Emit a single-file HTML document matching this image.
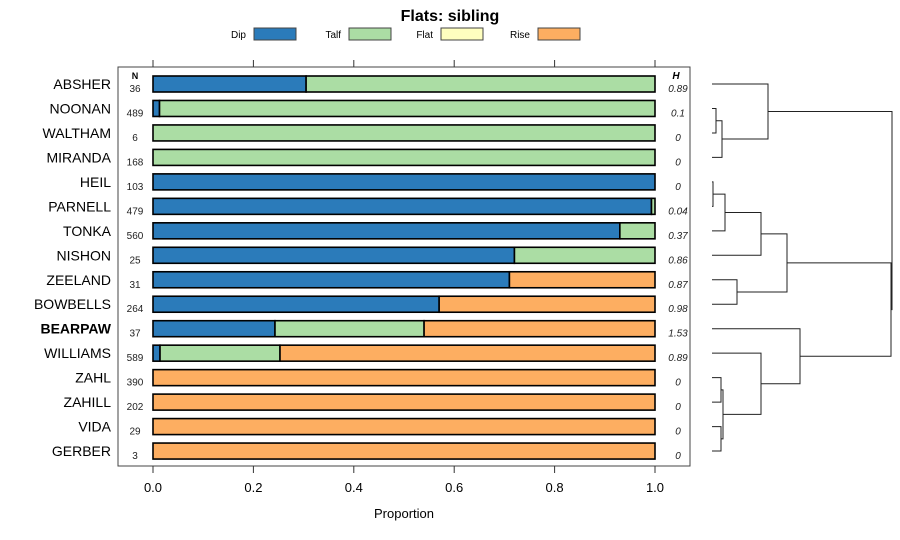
<!DOCTYPE html>
<html><head><meta charset="utf-8"><style>
body{margin:0;background:#fff;}
svg{display:block;font-family:"Liberation Sans",sans-serif;}
</style></head><body>
<svg id="c" width="900" height="540"></svg>
<script>
const rows=["ABSHER","NOONAN","WALTHAM","MIRANDA","HEIL","PARNELL","TONKA","NISHON","ZEELAND","BOWBELLS","BEARPAW","WILLIAMS","ZAHL","ZAHILL","VIDA","GERBER"];
const nVals=[36,489,6,168,103,479,560,25,31,264,37,589,390,202,29,3];
const hVals=["0.89","0.1","0","0","0","0.04","0.37","0.86","0.87","0.98","1.53","0.89","0","0","0","0"];
const dip=[0.305,0.013,0,0,1,0.993,0.93,0.72,0.71,0.57,0.243,0.014,0,0,0,0];
const talf=[0.695,0.987,1,1,0,0.007,0.07,0.28,0,0,0.297,0.239,0,0,0,0];
const flat=[0,0,0,0,0,0,0,0,0,0,0,0,0,0,0,0];
const rise=[0,0,0,0,0,0,0,0,0.29,0.43,0.46,0.747,1,1,1,1];
const ticks=[0,0.2,0.4,0.6,0.8,1.0];
const cats=["Dip","Talf","Flat","Rise"];
const colors=["#2b7bba","#abdda4","#ffffbf","#fdae61"];
const NS="http://www.w3.org/2000/svg";
const svg=document.getElementById('c');
function mk(t,a,txt){const e=document.createElementNS(NS,t);for(const k in a)e.setAttribute(k,a[k]);if(txt!==undefined)e.textContent=txt;svg.appendChild(e);return e;}
const x=p=>153+p*502;
const y=i=>84+i*24.47;
let e=mk('text',{x:450,y:21,'text-anchor':'middle','font-size':16,'font-weight':'bold'},'Flats: sibling');


const lx=[254,349,441,538];
cats.forEach((c,i)=>{
 e=mk('text',{x:lx[i]-8,y:38,'text-anchor':'end','font-size':10},c);
 
 
 e=mk('rect',{x:lx[i],y:28,width:42,height:12,fill:colors[i],stroke:'#444','stroke-width':1});
 
 
});
e=mk('rect',{x:118,y:67,width:572,height:399,fill:'none',stroke:'#444','stroke-width':1});


ticks.forEach(t=>{
 mk('line',{x1:x(t),x2:x(t),y1:60,y2:67,stroke:'#333'});
 mk('line',{x1:x(t),x2:x(t),y1:466,y2:473,stroke:'#333'});
 e=mk('text',{x:x(t),y:492,'text-anchor':'middle','font-size':13},t.toFixed(1));
 
 
});
e=mk('text',{x:404,y:518,'text-anchor':'middle','font-size':13},'Proportion');


mk('text',{x:135,y:79,'text-anchor':'middle','font-size':9,'font-weight':'bold'},'N');
mk('text',{x:676,y:79,'text-anchor':'middle','font-size':10,'font-weight':'bold','font-style':'italic'},'H');
const series=[dip,talf,flat,rise];
rows.forEach((r,i)=>{
 const cy=y(i);
 e=mk('text',{x:111,y:cy+5,'text-anchor':'end','font-size':14,'font-weight':r==='BEARPAW'?'bold':'normal'},r);
 
 
 e=mk('text',{x:135,y:cy+8,'text-anchor':'middle','font-size':10,fill:'#222'},nVals[i]);
 
 
 e=mk('text',{x:678,y:cy+8,'text-anchor':'middle','font-size':10,'font-style':'italic',fill:'#222'},hVals[i]);
 
 
 let acc=0;
 series.forEach((s,k)=>{
  if(s[i]<=0)return;
  e=mk('rect',{x:x(acc),y:cy-8,width:x(acc+s[i])-x(acc),height:16,fill:colors[k],stroke:'#000','stroke-width':1.6});
  
  
  acc+=s[i];
 });
});
function link(x1,ya,yb,xa,xb){
 let p=mk('path',{d:`M${xa},${ya}H${x1}V${yb}H${xb}`,fill:'none',stroke:'#222','stroke-width':1});
 
 
 return (ya+yb)/2;
}
const L=712;
let a=link(716,y(1),y(2),L,L);
a=link(722,a,y(3),716,L);
const c1=link(768,y(0),a,L,722);
let b=link(713,y(4),y(5),L,L);
b=link(725,b,y(6),713,L);
b=link(761,b,y(7),725,L);
let zb=link(737,y(8),y(9),L,L);
const c2=link(787,b,zb,761,737);
let d1=link(721,y(12),y(13),L,L);
let d2=link(721,y(14),y(15),L,L);
let d=link(723,d1,d2,721,721);
d=link(761,y(11),d,L,723);
const c3=link(800,y(10),d,L,761);
const c23=link(891,c2,c3,787,800);
link(892,c1,c23,768,891);
</script>
</body></html>
